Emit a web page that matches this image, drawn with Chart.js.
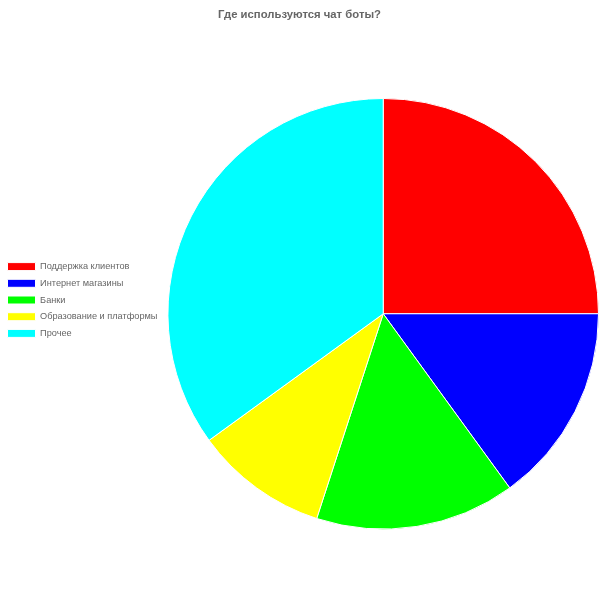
<!DOCTYPE html>
<html><head><meta charset="utf-8">
<script src="https://cdn.jsdelivr.net/npm/chart.js@4"></script>
<style>html,body{margin:0;padding:0;background:#fff}#w{width:600px;height:600px}</style>
</head><body><div id="w"><canvas id="c"></canvas></div>
<script>
const categories = ["Поддержка клиентов", "Интернет магазины", "Банки", "Образование и платформы", "Прочее"];
const values = [25, 15, 15, 10, 35];
const colors = ["#ff0000", "#0000ff", "#00ff00", "#ffff00", "#00ffff"];
const titleText = "Где используются чат боты?";
new Chart(document.getElementById('c'), {
  type: 'pie',
  data: { labels: categories, datasets: [{ data: values, backgroundColor: colors, borderColor: '#fff', borderWidth: 1 }] },
  options: {
    responsive: true, maintainAspectRatio: false, animation: false,
    layout: { padding: { right: 1 } },
    plugins: {
      title: { display: true, text: titleText, color: '#666', font: { family: 'Liberation Sans, Arial', size: 11.3, weight: 'bold' }, padding: { top: 8, bottom: 6 } },
      legend: { position: 'left', labels: { color: '#666', boxWidth: 28, boxHeight: 8, padding: 7.5, font: { family: 'Liberation Sans, Arial', size: 9.2 } } },
      tooltip: { enabled: false }
    }
  }
});
</script></body></html>
